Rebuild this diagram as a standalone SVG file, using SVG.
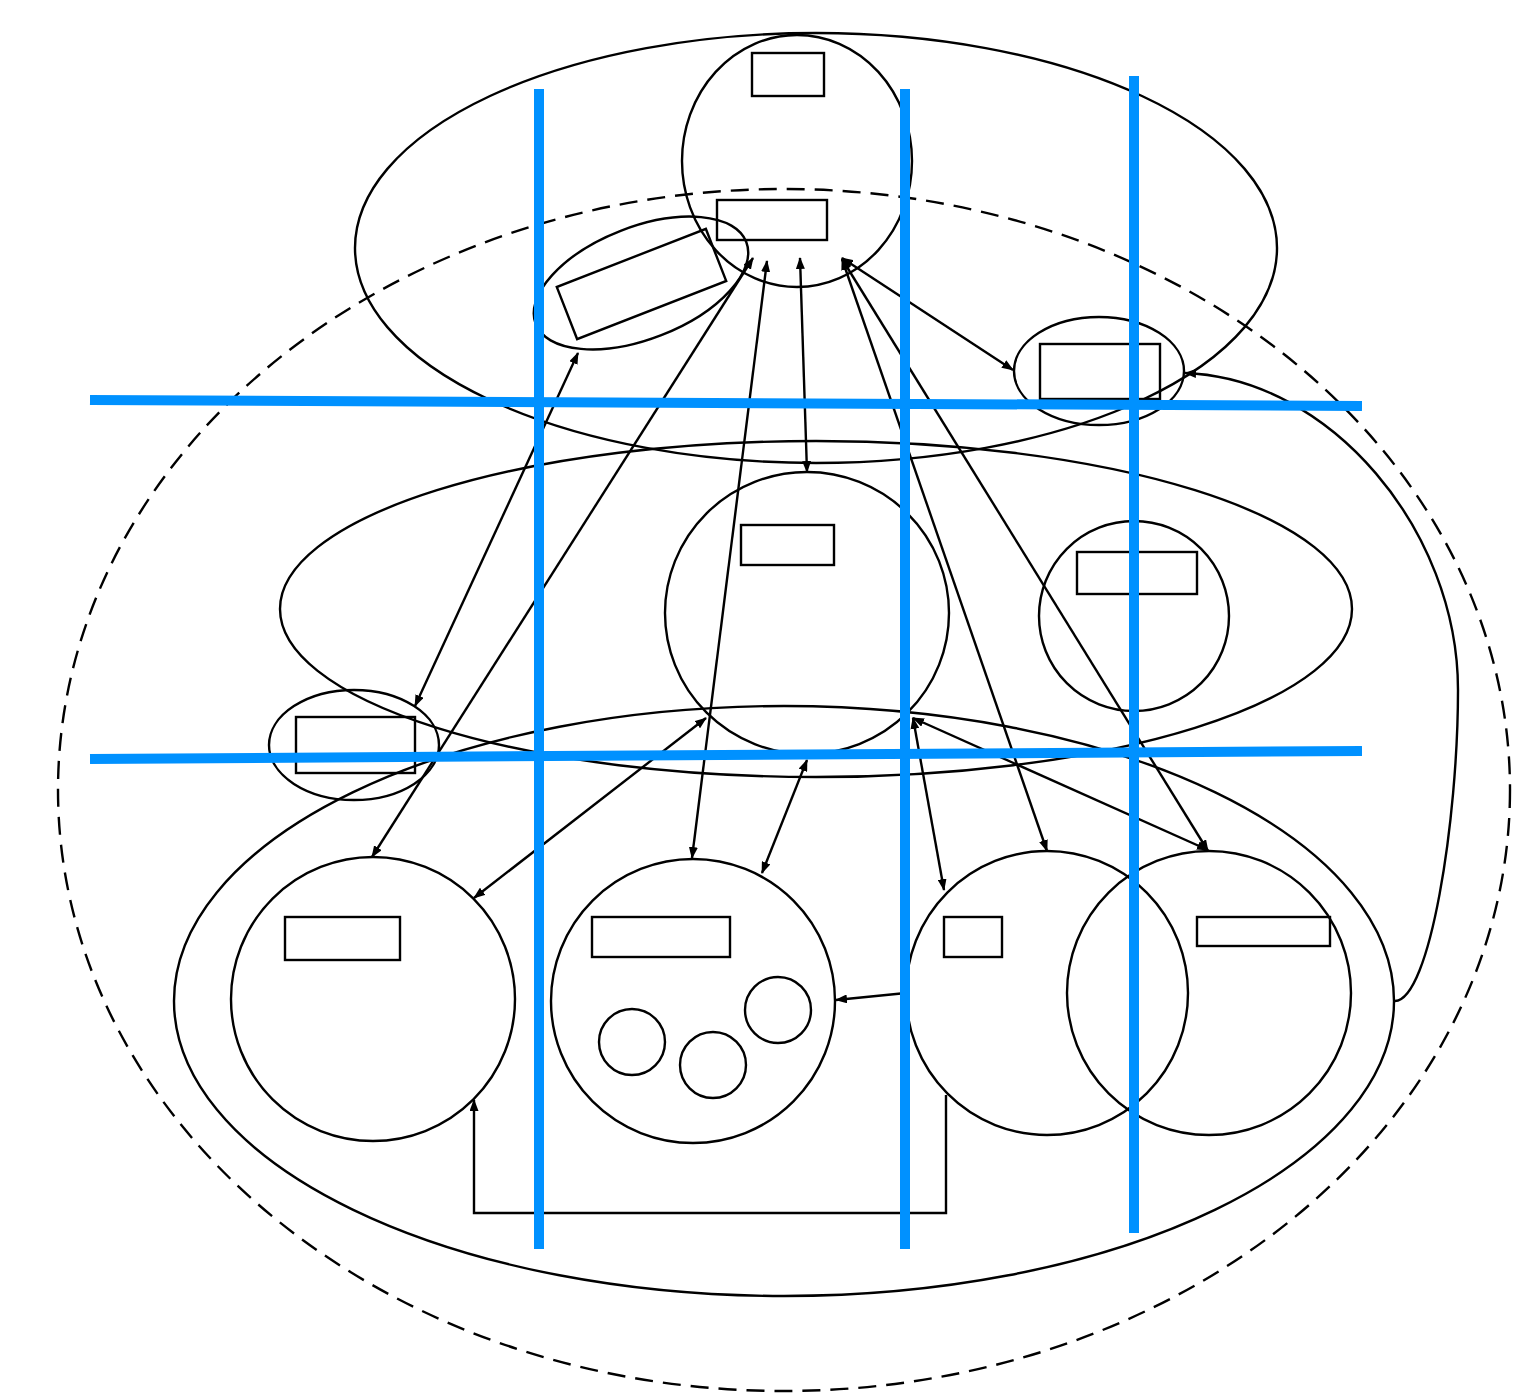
<svg xmlns="http://www.w3.org/2000/svg" width="1526" height="1394" viewBox="0 0 1526 1394">
<style>
.s{fill:none;stroke:#000;stroke-width:2.4}
.r{fill:#fff;stroke:#000;stroke-width:2.4}
.d{fill:none;stroke:#000;stroke-width:2.4;stroke-dasharray:18 10}
.c{fill:none;stroke:#000;stroke-width:2.4;marker-start:url(#a);marker-end:url(#a)}
.e{fill:none;stroke:#000;stroke-width:2.4;marker-end:url(#a)}
.b{fill:none;stroke:#0091FF;stroke-width:10}
</style>
<defs>
<marker id="a" markerUnits="userSpaceOnUse" markerWidth="12" markerHeight="9" refX="11" refY="4.5" orient="auto-start-reverse" viewBox="0 0 12 9">
<path d="M0,0 L12,4.5 L0,9 z" fill="#000"/>
</marker>
</defs>
<rect width="1526" height="1394" fill="#fff"/>
<g id="outer"><ellipse class="d" cx="784" cy="790" rx="726" ry="601"/></g>
<g id="top-group"><ellipse class="s" cx="816" cy="248" rx="461" ry="215"/></g>
<g id="mid-group"><ellipse class="s" cx="816" cy="609" rx="536" ry="168"/></g>
<g id="bottom-group"><ellipse class="s" cx="784" cy="1001" rx="610" ry="295"/></g>
<g id="top-circle">
<ellipse class="s" cx="797" cy="161" rx="115" ry="126"/>
<rect class="s" x="752" y="53" width="72" height="43"/>
<rect class="s" x="717" y="200" width="110" height="40"/>
</g>
<g id="tilted">
<ellipse class="s" cx="641" cy="283" rx="113" ry="56" transform="rotate(-21.3 641 283)"/>
<rect class="s" x="561.5" y="256" width="160" height="56" transform="rotate(-21.3 641.5 284)"/>
</g>
<g id="right-small">
<ellipse class="s" cx="1099" cy="371" rx="85" ry="54"/>
<rect class="s" x="1040" y="344" width="120" height="55"/>
</g>
<g id="mid-circle">
<ellipse class="s" cx="807" cy="613" rx="142" ry="141"/>
<rect class="s" x="741" y="525" width="93" height="40"/>
</g>
<g id="mid-right-circle">
<circle class="s" cx="1134" cy="616" r="95"/>
<rect class="s" x="1077" y="552" width="120" height="42"/>
</g>
<g id="left-small">
<ellipse class="s" cx="354" cy="745" rx="85" ry="55"/>
<rect class="s" x="296" y="717" width="119" height="56"/>
</g>
<g id="c1">
<circle class="s" cx="373" cy="999" r="142"/>
<rect class="s" x="285" y="917" width="115" height="43"/>
</g>
<g id="c2">
<circle class="s" cx="693" cy="1001" r="142"/>
<rect class="s" x="592" y="917" width="138" height="40"/>
<circle class="s" cx="632" cy="1042" r="33"/>
<circle class="s" cx="713" cy="1065" r="33"/>
<circle class="s" cx="778" cy="1010" r="33"/>
</g>
<g id="c3">
<ellipse class="s" cx="1047" cy="993" rx="141" ry="142"/>
<rect class="s" x="944" y="917" width="58" height="40"/>
</g>
<g id="c4">
<circle class="s" cx="1209" cy="993" r="142"/>
<rect class="s" x="1197" y="917" width="133" height="29"/>
</g>
<g id="connectors">
<line class="c" x1="578" y1="353" x2="415" y2="706"/>
<line class="c" x1="753" y1="258" x2="372" y2="857"/>
<line class="c" x1="767" y1="261" x2="692" y2="858"/>
<line class="c" x1="800" y1="258" x2="807" y2="472"/>
<line class="c" x1="842" y1="258" x2="1013" y2="370"/>
<line class="c" x1="842" y1="259" x2="1047" y2="851"/>
<line class="c" x1="842" y1="259" x2="1208" y2="851"/>
<line class="c" x1="706" y1="718" x2="474" y2="898"/>
<line class="c" x1="807" y1="760" x2="762" y2="873"/>
<line class="c" x1="913" y1="718" x2="944" y2="890"/>
<line class="c" x1="913" y1="718" x2="1208" y2="850"/>
<line class="e" x1="906" y1="993" x2="836" y2="1000"/>
<path class="e" d="M946,1095 V1213 H474 V1100"/>
<path class="e" d="M1395,1001 C1430,1000 1458,820 1458,690 C1458,530 1330,378 1185,373"/>
</g>
<g id="grid">
<line class="b" x1="539" y1="89" x2="539" y2="1249"/>
<line class="b" x1="905" y1="89" x2="905" y2="1249"/>
<line class="b" x1="1134" y1="76" x2="1134" y2="1233"/>
<line class="b" x1="90" y1="400" x2="1362" y2="406"/>
<line class="b" x1="90" y1="759" x2="1362" y2="751"/>
</g>
</svg>
